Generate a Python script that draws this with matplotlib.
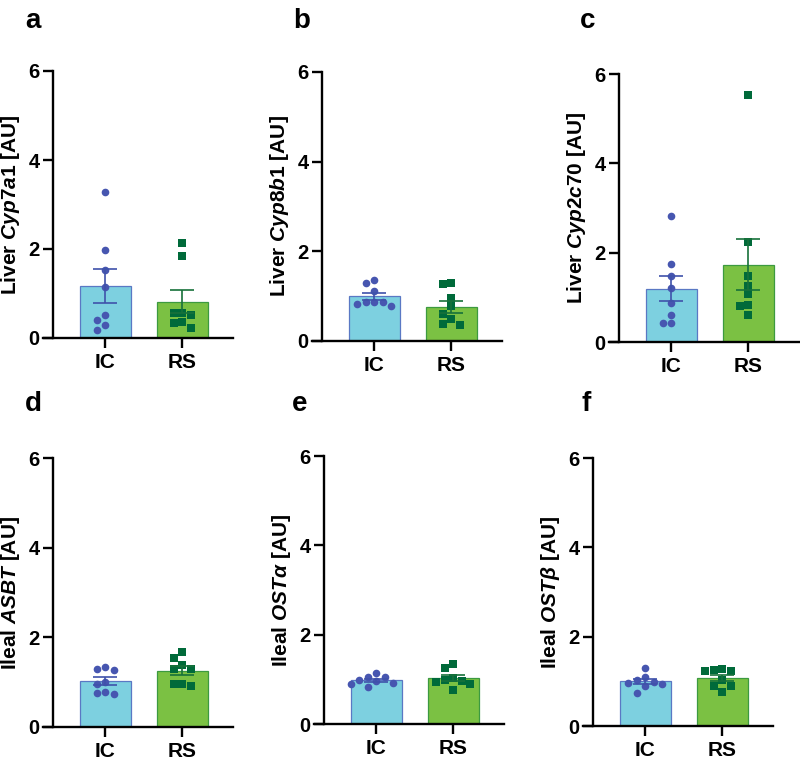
import numpy as np
import matplotlib
matplotlib.use("Agg")
import matplotlib.pyplot as plt

plt.rcParams['font.family'] = ['Liberation Sans', 'DejaVu Sans']
plt.rcParams['font.weight'] = 'bold'
plt.rcParams['mathtext.fontset'] = 'custom'
plt.rcParams['mathtext.rm'] = 'Liberation Sans:bold'
plt.rcParams['mathtext.it'] = 'Liberation Sans:italic:bold'
plt.rcParams['mathtext.bf'] = 'Liberation Sans:bold'

# data (8 animals per group)
groups = ['IC', 'RS']
letters = ['a', 'b', 'c', 'd', 'e', 'f']
ylabels = [r'Liver $\mathit{Cyp7a1}$ [AU]',
           r'Liver $\mathit{Cyp8b1}$ [AU]',
           r'Liver $\mathit{Cyp2c70}$ [AU]',
           r'Ileal $\mathit{ASBT}$ [AU]',
           r'Ileal $\mathit{OST\alpha}$ [AU]',
           r'Ileal $\mathit{OST\beta}$ [AU]']

ic_cyp7a1 = [3.27, 1.98, 1.52, 1.14, 0.52, 0.41, 0.29, 0.19]
rs_cyp7a1 = [2.14, 1.85, 0.56, 0.56, 0.52, 0.35, 0.33, 0.22]
ic_cyp8b1 = [1.37, 1.30, 1.12, 0.87, 0.87, 0.87, 0.82, 0.77]
rs_cyp8b1 = [1.30, 1.27, 0.97, 0.77, 0.61, 0.48, 0.39, 0.35]
ic_cyp2c70 = [2.82, 1.74, 1.48, 1.22, 0.87, 0.60, 0.43, 0.42]
rs_cyp2c70 = [5.53, 2.23, 1.48, 1.26, 1.07, 0.83, 0.81, 0.60]
ic_asbt = [1.33, 1.30, 1.27, 1.00, 0.97, 0.78, 0.76, 0.73]
rs_asbt = [1.68, 1.53, 1.38, 1.30, 1.30, 0.97, 0.95, 0.91]
ic_osta = [1.15, 1.05, 1.05, 0.98, 0.97, 0.92, 0.90, 0.82]
rs_osta = [1.34, 1.25, 1.03, 0.99, 0.97, 0.94, 0.90, 0.76]
ic_ostb = [1.30, 1.09, 1.04, 0.99, 0.97, 0.95, 0.89, 0.75]
rs_ostb = [1.28, 1.25, 1.23, 1.23, 1.02, 0.89, 0.89, 0.77]

panels = [(ic_cyp7a1, rs_cyp7a1), (ic_cyp8b1, rs_cyp8b1), (ic_cyp2c70, rs_cyp2c70),
          (ic_asbt, rs_asbt), (ic_osta, rs_osta), (ic_ostb, rs_ostb)]

# styles per group
fill = ['#7dd0e0', '#7bc143']
edge = ['#5a78c4', '#3c9a40']
dot = ['#4756b0', '#006a3a']
errc = ['#3f52aa', '#17713a']
marker = ['o', 's']

W, H = 800, 767
fig = plt.figure(figsize=(W / 100, H / 100), dpi=100)

# (spine x, y of 6, y of 0) in pixels for each panel
frames = [(53, 71, 338), (322, 72, 341), (619, 74, 342),
          (53, 458, 727), (324, 456, 724), (593, 458, 726)]
letter_pos = [(25, 28), (293, 28), (580, 28), (25, 411), (292, 411), (581, 411)]

X_LO, X_HI, SPINE_X = -0.8, 1.66, -0.675


def swarm(ax, x0, vals, step_px=8.5, min_px=8.0):
    # greedy beeswarm in display pixels, biggest values first
    vals = np.asarray(vals)
    tr = ax.transData
    ypx = tr.transform(np.column_stack([np.zeros(len(vals)), vals]))[:, 1]
    ppu = tr.transform([[1, 0]])[0, 0] - tr.transform([[0, 0]])[0, 0]
    offs = np.zeros(len(vals))
    placed = []
    for i in np.argsort(-vals, kind='stable'):
        for k in [0, -1, 1, -2, 2, -3, 3, -4, 4]:
            dx = k * step_px
            if all(np.hypot(dx - px, ypx[i] - py) >= min_px for px, py in placed):
                break
        placed.append((dx, ypx[i]))
        offs[i] = dx / ppu
    return x0 + offs


for n, (data, (sx, y6, y0)) in enumerate(zip(panels, frames)):
    ppu = 190 / (X_HI - X_LO)
    left = sx + X_LO * ppu - SPINE_X * ppu
    ax = fig.add_axes([left / W, 1 - y0 / H, 190 / W, (y0 - y6) / H])
    ax.set_xlim(X_LO, X_HI)
    ax.set_ylim(0, 6)

    for g, vals in enumerate(data):
        vals = np.asarray(vals)
        m = vals.mean()
        sem = vals.std(ddof=1) / np.sqrt(len(vals))
        ax.bar(g, m, width=0.66, color=fill[g], edgecolor=edge[g], linewidth=0.9, zorder=1)
        xs = swarm(ax, g, vals)
        ax.plot(xs, vals, ls='none', marker=marker[g], ms=5.5, mew=0,
                color=dot[g], zorder=3, clip_on=False)
        ax.errorbar(g, m, yerr=sem, fmt='none', ecolor=errc[g], elinewidth=1.2,
                    capsize=8.5, capthick=1.2, zorder=4)

    for s in ['top', 'right']:
        ax.spines[s].set_visible(False)
    ax.spines['left'].set_position(('data', SPINE_X))
    ax.spines['left'].set_bounds(0, 6)
    for s in ['left', 'bottom']:
        ax.spines[s].set_linewidth(1.7)

    ax.set_yticks([0, 2, 4, 6])
    ax.set_xticks([0, 1])
    ax.set_xticklabels(groups)
    ax.tick_params(axis='y', length=7, width=1.7, pad=2.5, labelsize=14.5)
    ax.tick_params(axis='x', length=7, width=1.7, pad=4, labelsize=15)
    for lab in ax.get_xticklabels() + ax.get_yticklabels():
        lab.set_fontweight('bold')
    ax.set_ylabel(ylabels[n], fontsize=15, fontweight='bold', labelpad=5)

    lx, ly = letter_pos[n]
    fig.text(lx / W, 1 - ly / H, letters[n], fontsize=20, fontweight='bold',
             ha='left', va='baseline')

fig.savefig('out.png', dpi=100)
